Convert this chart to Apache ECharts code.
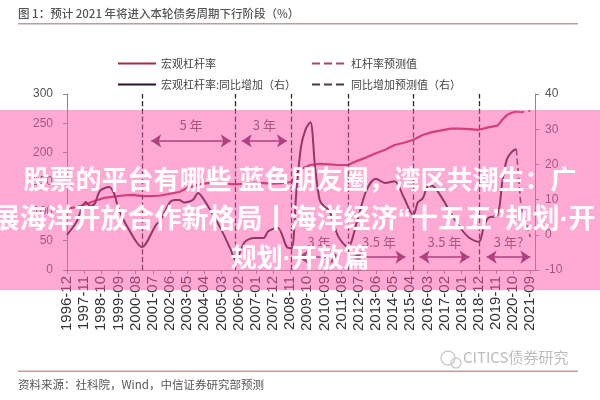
<!DOCTYPE html>
<html><head><meta charset="utf-8">
<style>html,body{margin:0;padding:0;background:#fff}#c{width:600px;height:400px}</style>
<script src="https://cdn.jsdelivr.net/npm/echarts@6/dist/echarts.min.js"></script>
</head><body><div id="c"></div>
<script>
const titleText = '图 1：预计 2021 年将进入本轮债务周期下行阶段（%）';
const sourceText = '资料来源：社科院，Wind，中信证券研究部预测';
const seriesNames = ['宏观杠杆率','宏观杠杆率:同比增加（右）','杠杆率预测值','同比增加预测值（右）'];
const leverageDates = ['1996-12','1997-06','1997-12','1998-06','1998-12','1999-06','1999-12','2000-06','2000-12','2001-06','2001-12','2002-06','2002-12','2003-06','2003-12','2004-06','2004-12','2005-06','2005-12','2006-06','2006-12','2007-06','2007-12','2008-06','2008-12','2009-03','2009-06','2009-12','2010-06','2010-12','2011-06','2011-12','2012-06','2012-12','2013-06','2013-12','2014-06','2014-12','2015-06','2015-12','2016-06','2016-12','2017-06','2017-12','2018-06','2018-12','2019-06','2019-12','2020-03','2020-06','2020-09','2020-12'];
const leverageValues = [105,107,112,118,123,125,127,128,126,126,127,130,133,141,145,148,148,147,146,147,149,148,147,148,150,165,172,179,181,180,179,179,186,192,199,205,213,217,222,230,235,238,241,241,240,239,243,246,256,264,268,270];
const yoyDates = ['1996-12','1997-06','1997-12','1998-03','1998-06','1998-09','1999-03','1999-06','1999-09','2000-03','2000-12','2001-09','2001-12','2002-06','2002-09','2002-12','2003-03','2003-06','2003-09','2003-12','2004-03','2004-09','2005-03','2005-09','2005-12','2006-06','2006-12','2007-06','2007-09','2008-03','2008-09','2008-12','2009-03','2009-06','2009-09','2009-12','2010-03','2010-06','2010-09','2010-12','2011-06','2011-12','2012-06','2012-12','2013-06','2013-12','2014-06','2014-12','2015-06','2015-09','2015-12','2016-03','2016-06','2016-12','2017-06','2017-12','2018-06','2018-12','2019-03','2019-06','2019-12','2020-03','2020-06','2020-09','2020-12'];
const yoyValues = [0,3.6,9.3,8.2,9,12.4,13.6,11.9,7.5,2,-3.5,2.8,4.2,9.3,9.9,9.9,9.2,9.4,10,11.9,10.5,6.2,1.4,-4.3,-7.2,-2,-0.9,-0.9,1,2,-3.5,-3.8,12,25,30,32,19.3,9.9,8,7,-0.6,-3.5,4,12.7,15.9,14.7,15.2,10.5,5.6,9.3,10.3,13.6,13.9,10.7,6.2,2,-0.9,-2,2,4.8,5.6,15,21.5,23.5,24.4];
const forecastDates = ['2020-12','2021-03','2021-06','2021-09'];
const leverageForecast = [270,269,270,271];
const yoyForecast = [24.4,8,3.5,-0.6];
const cycleDates = ['2000-12','2005-12','2008-12','2011-12','2015-06','2018-12'];
const spanLabels = ['5 年','3 年','3 年','3.5 年','3.5 年','3 年?'];
const spanStarts = ['2001-06','2006-04','2009-04','2012-03','2015-10','2019-05'];
const spanEnds = ['2005-09','2008-09','2011-07','2015-01','2018-06','2021-09'];
const spanLevels = [220,220,22,22,22,22];
const overlayLines = ['股票的平台有哪些 蓝色朋友圈，湾区共潮生：广','展海洋开放合作新格局丨海洋经济“十五五”规划·开','规划·开放篇'];

const categories = [];
for (let y = 1996, m = 12; y < 2022; ) {
  categories.push(y + '-' + String(m).padStart(2, '0'));
  if (y === 2021 && m === 12) break;
  m++; if (m > 12) { m = 1; y++; }
}
const pairs = (d, v) => d.map((x, i) => [x, v[i]]);
const axisColor = '#8a8a8a';
const annotColor = '#5f2a55';

const chart = echarts.init(document.getElementById('c'), null, {renderer:'canvas'});
const font = '"Noto Sans CJK SC"';
const mixed = '"Liberation Sans","Noto Sans CJK SC"';
chart.setOption({
  animation:false,
  backgroundColor:'#fff',
  grid:{left:67,right:65,top:94,bottom:130},
  legend:[
    {left:117,top:58,padding:0,orient:'vertical',itemStyle:{opacity:0},itemWidth:38,itemHeight:10,itemGap:10,data:[seriesNames[0],seriesNames[1]],
     textStyle:{color:'#444',fontSize:11,fontFamily:font}},
    {left:311,top:58,padding:0,orient:'vertical',itemStyle:{opacity:0},itemWidth:34,itemHeight:10,itemGap:10,data:[seriesNames[2],seriesNames[3]],
     textStyle:{color:'#444',fontSize:11,fontFamily:font}}
  ],
  xAxis:{type:'category',data:categories,boundaryGap:false,
    axisLine:{lineStyle:{color:axisColor}},
    axisTick:{interval:10,length:4,lineStyle:{color:axisColor}},
    axisLabel:{interval:10,rotate:90,fontSize:15,color:'#333',margin:6,fontFamily:'"Liberation Sans"'}},
  yAxis:[
    {type:'value',min:0,max:300,interval:50,splitLine:{show:false},
     axisLine:{show:true,lineStyle:{color:axisColor}},axisTick:{show:true,length:4,lineStyle:{color:axisColor}},
     axisLabel:{fontSize:12,color:'#555',margin:14,fontFamily:'"Liberation Sans"'}},
    {type:'value',min:-10,max:40,interval:10,position:'right',splitLine:{show:false},
     axisLine:{show:true,lineStyle:{color:axisColor}},axisTick:{show:true,length:4,lineStyle:{color:axisColor}},
     axisLabel:{fontSize:12,color:'#555',margin:10,fontFamily:'"Liberation Sans"'}}
  ],
  series:[
    {name:seriesNames[0],type:'line',symbol:'none',data:pairs(leverageDates,leverageValues),
     lineStyle:{color:'#a52a45',width:2.2},itemStyle:{color:'#a52a45'}},
    {name:seriesNames[1],type:'line',yAxisIndex:1,symbol:'none',smooth:0.3,data:pairs(yoyDates,yoyValues),
     lineStyle:{color:'#2a1526',width:2},itemStyle:{color:'#2a1526'}},
    {name:seriesNames[2],type:'line',symbol:'none',data:pairs(forecastDates,leverageForecast),
     lineStyle:{color:'#b5405f',width:2,type:'dashed'},itemStyle:{color:'#b5405f'}},
    {name:seriesNames[3],type:'line',yAxisIndex:1,symbol:'none',data:pairs(forecastDates,yoyForecast),
     lineStyle:{color:'#4a3a46',width:1.6,type:'dashed'},itemStyle:{color:'#4a3a46'}},
    {name:'cycles',type:'line',symbol:'none',data:[],silent:true,
     markLine:{silent:true,symbol:'none',animation:false,label:{show:false},
       lineStyle:{color:'#2a2a2a',type:'dashed',width:1.3},
       data:cycleDates.map(d=>({xAxis:d}))}},
    {name:'spans',type:'line',symbol:'none',data:[],silent:true,
     markLine:{silent:true,symbol:['arrow','arrow'],symbolSize:10,animation:false,
       lineStyle:{color:annotColor,type:'solid',width:1.6},
       label:{show:true,position:'middle',color:'#555',fontSize:13,distance:9,fontFamily:font},
       data:spanLabels.map((t,i)=>[
         {coord:[spanStarts[i],spanLevels[i]],name:t,label:{formatter:t}},
         {coord:[spanEnds[i],spanLevels[i]]}])}}
  ],
  graphic:[
    {type:'text',left:18,top:8,style:{text:titleText,fill:'#555',font:'500 11.5px '+font}},
    {type:'rect',shape:{x:18,y:23,width:560,height:1.6},style:{fill:'#c49a9a'}},
    {type:'rect',shape:{x:18,y:370.5,width:560,height:1.4},style:{fill:'#c49a9a'}},
    {type:'text',left:18,top:379,style:{text:sourceText,fill:'#555',font:'11.5px '+font}},
    {type:'circle',shape:{cx:448,cy:358,r:7},style:{fill:'none',stroke:'#ccc',lineWidth:1.4}},
    {type:'circle',shape:{cx:456,cy:363,r:5},style:{fill:'none',stroke:'#ccc',lineWidth:1.4}},
    {type:'text',left:463,top:350,style:{text:'CITICS债券研究',fill:'#bdbdbd',font:'15px '+font}},
    {type:'rect',zlevel:1,shape:{x:0,y:110,width:600,height:180},style:{fill:'rgba(255,85,170,0.5)'}},
    {type:'text',zlevel:1,x:300,y:182,style:{text:overlayLines[0],fill:'#fff',align:'center',verticalAlign:'middle',font:'bold 26px '+mixed}},
    {type:'text',zlevel:1,x:294,y:221,style:{text:overlayLines[1],fill:'#fff',align:'center',verticalAlign:'middle',font:'bold 27px '+mixed}},
    {type:'text',zlevel:1,x:300,y:260,style:{text:overlayLines[2],fill:'#fff',align:'center',verticalAlign:'middle',font:'bold 26px '+mixed}}
  ]
});
</script></body></html>
